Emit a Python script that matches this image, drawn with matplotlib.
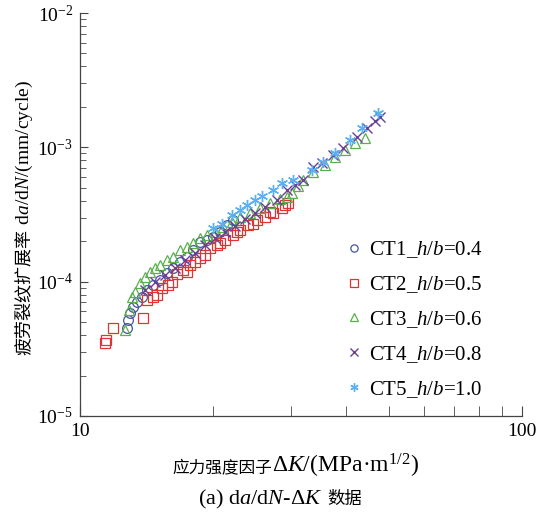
import matplotlib
matplotlib.use("Agg")
import matplotlib.pyplot as plt
from matplotlib.ticker import LogLocator, NullFormatter, FixedLocator, FixedFormatter

plt.rcParams['font.family'] = ['Liberation Serif', 'Noto Sans CJK SC', 'DejaVu Sans']
plt.rcParams['mathtext.fontset'] = 'custom'
plt.rcParams['mathtext.rm'] = 'Liberation Serif'
plt.rcParams['mathtext.it'] = 'Liberation Serif:italic'

# data: dK (MPa m^1/2), da/dN (mm/cycle)
ct1_k = [12.77, 12.84, 12.98, 13.18, 13.46, 13.81, 14.17, 14.63, 15.17, 15.73,
         16.23, 16.84, 17.47, 18.02, 18.69, 19.38, 20.00, 20.74, 21.51, 22.20]
ct1_v = [4.52e-5, 5.19e-5, 5.85e-5, 6.48e-5, 7.06e-5, 7.69e-5, 8.67e-5, 9.45e-5, 1.03e-4, 1.161e-4,
         1.265e-4, 1.402e-4, 1.528e-4, 1.722e-4, 1.975e-4, 2.044e-4, 2.152e-4, 2.345e-4, 2.644e-4, 2.88e-4]

ct2_k = [11.39, 11.45, 11.88, 13.88, 14.17, 14.63, 14.93, 15.33, 15.82, 16.15, 16.58, 17.10,
         17.47, 17.74, 18.20, 18.69, 19.18, 19.69, 20.42, 20.74, 21.29, 22.20, 22.66, 23.01,
         24.00, 24.63, 25.15, 26.22, 26.92, 27.34, 28.64, 29.09, 29.56]
ct2_v = [3.50e-5, 3.68e-5, 4.52e-5, 5.37e-5, 7.31e-5, 7.69e-5, 7.96e-5, 8.98e-5, 9.45e-5, 9.95e-5,
         1.141e-4, 1.222e-4, 1.181e-4, 1.331e-4, 1.402e-4, 1.502e-4, 1.58e-4, 1.782e-4, 1.876e-4,
         1.942e-4, 2.044e-4, 2.227e-4, 2.345e-4, 2.427e-4, 2.644e-4, 2.69e-4, 2.88e-4, 3.033e-4,
         3.30e-4, 3.248e-4, 3.539e-4, 3.72e-4, 3.855e-4]

ct3_k = [12.64, 12.91, 13.11, 13.32, 13.67, 14.03, 14.40, 14.78, 15.17, 15.73, 16.23, 16.84,
         17.47, 18.02, 18.69, 19.38, 20.21, 21.07, 22.08, 23.01, 24.25, 25.54, 26.92, 28.36,
         29.40, 30.18, 31.13, 31.96, 33.67, 35.84, 37.76, 39.78, 41.89, 44.15]
ct3_v = [4.37e-5, 6.16e-5, 7.69e-5, 8.38e-5, 9.78e-5, 1.084e-4, 1.181e-4, 1.265e-4, 1.331e-4,
         1.451e-4, 1.528e-4, 1.722e-4, 1.813e-4, 1.942e-4, 2.116e-4, 2.227e-4, 2.345e-4, 2.555e-4,
         2.783e-4, 3.033e-4, 3.248e-4, 3.539e-4, 3.855e-4, 4.129e-4, 4.273e-4, 4.577e-4, 5.16e-4,
         5.72e-4, 6.56e-4, 7.40e-4, 8.48e-4, 9.56e-4, 1.07e-3, 1.175e-3]

ct4_k = [14.03, 14.78, 15.57, 16.40, 17.28, 18.20, 19.18, 20.21, 21.29, 22.42, 23.62, 24.89,
         26.22, 27.92, 29.40, 30.65, 31.96, 33.67, 35.29, 37.37, 39.36, 42.34, 44.61, 46.50, 47.72]
ct4_v = [8.67e-5, 9.95e-5, 1.122e-4, 1.265e-4, 1.451e-4, 1.636e-4, 1.876e-4, 2.116e-4, 2.345e-4,
         2.598e-4, 2.93e-4, 3.248e-4, 3.60e-4, 4.058e-4, 4.818e-4, 5.248e-4, 5.72e-4, 7.147e-4,
         7.652e-4, 8.779e-4, 9.897e-4, 1.195e-3, 1.395e-3, 1.573e-3, 1.684e-3]

ct5_k = [20.00, 20.96, 22.08, 23.01, 23.87, 24.89, 25.82, 27.34, 28.64, 30.34, 33.49, 35.47,
         37.76, 40.83, 43.45, 47.24]
ct5_v = [2.51e-4, 2.69e-4, 3.14e-4, 3.42e-4, 3.72e-4, 4.058e-4, 4.35e-4, 4.818e-4, 5.431e-4,
         5.72e-4, 6.79e-4, 7.78e-4, 9.085e-4, 1.135e-3, 1.395e-3, 1.804e-3]

labels = ['CT1_$h$/$b$=0.4', 'CT2_$h$/$b$=0.5', 'CT3_$h$/$b$=0.6',
          'CT4_$h$/$b$=0.8', 'CT5_$h$/$b$=1.0']
x_ticks = [10, 100]
x_tick_labels = ['10', '100']

fig = plt.figure(figsize=(5.37, 5.12), dpi=100)
ax = fig.add_axes([80 / 537, 96 / 512, 442 / 537, 403 / 512])

ms = 7
ax.plot(ct1_k, ct1_v, 'o', ls='none', mfc='none', mec='#44559a', ms=ms, mew=0.9, label=labels[0])
ax.plot(ct2_k, ct2_v, 's', ls='none', mfc='none', mec='#e03434', ms=ms, mew=0.9, label=labels[1])
ax.plot(ct3_k, ct3_v, '^', ls='none', mfc='none', mec='#58b04a', ms=ms, mew=0.9, label=labels[2])
ax.plot(ct4_k, ct4_v, 'x', ls='none', color='#6b3d99', ms=ms, mew=1.0, label=labels[3])
ax.plot(ct5_k, ct5_v, marker=(6, 2, 0), ls='none', color='#5ab0f0', ms=ms + 1, mew=1.0, label=labels[4])

ax.set_xscale('log')
ax.set_yscale('log')
ax.set_xlim(10, 100)
ax.set_ylim(1e-5, 1e-2)

ax.spines['top'].set_visible(False)
ax.spines['right'].set_visible(False)
for s in ['left', 'bottom']:
    ax.spines[s].set_color('#444444')
    ax.spines[s].set_linewidth(0.9)

ax.xaxis.set_major_locator(FixedLocator(x_ticks))
ax.xaxis.set_major_formatter(FixedFormatter(x_tick_labels))
ax.xaxis.set_minor_formatter(NullFormatter())
ax.yaxis.set_minor_locator(LogLocator(base=10, subs=range(2, 10)))
ax.yaxis.set_minor_formatter(NullFormatter())
ax.tick_params(which='both', direction='in', color='#444444', labelsize=14, pad=5)
ax.tick_params(axis='x', which='both', length=7)
ax.tick_params(axis='y', which='major', length=6)
ax.tick_params(axis='y', which='minor', length=4)

leg = ax.legend(loc='upper left', bbox_to_anchor=(346 / 537, 1 - 239 / 512),
                bbox_transform=fig.transFigure, frameon=False, fontsize=15,
                handlelength=0.8, handletextpad=0.3, labelspacing=0.68,
                borderpad=0, borderaxespad=0, numpoints=1, markerscale=0.75)

# x label: CJK piece then serif piece on the same baseline
xl_base = 1 - 473 / 512
t1 = fig.text(172 / 537, xl_base, '应力强度因子', family='Noto Sans CJK SC',
              fontsize=12, ha='left', va='baseline')
ax.annotate('Δ$K$/(MPa·m$^{1/2}$)', xy=(1, xl_base), xycoords=(t1, 'figure fraction'),
            fontsize=17, ha='left', va='baseline', annotation_clip=False)

# caption
cap_base = 1 - 504 / 512
t2 = fig.text(198 / 537, cap_base, '(a) d$a$/d$N$-Δ$K$', fontsize=16,
              ha='left', va='baseline')
ax.annotate('数据', xy=(1, cap_base), xycoords=(t2, 'figure fraction'),
            xytext=(5, 0), textcoords='offset pixels', family='Noto Sans CJK SC',
            fontsize=12.5, ha='left', va='baseline', annotation_clip=False)

# y label, rotated, CJK then serif on a common baseline
yl_base = 29 / 537
t3 = fig.text(yl_base, 1 - 355 / 512, '疲劳裂纹扩展率', family='Noto Sans CJK SC',
              fontsize=13, rotation=90, rotation_mode='anchor', ha='left', va='baseline')
ax.annotate(' d$a$/d$N$/(mm/cycle)', xy=(yl_base, 1), xycoords=('figure fraction', t3),
            fontsize=14, rotation=90, rotation_mode='anchor', ha='left', va='baseline',
            annotation_clip=False)

fig.savefig('out.png', dpi=100)
